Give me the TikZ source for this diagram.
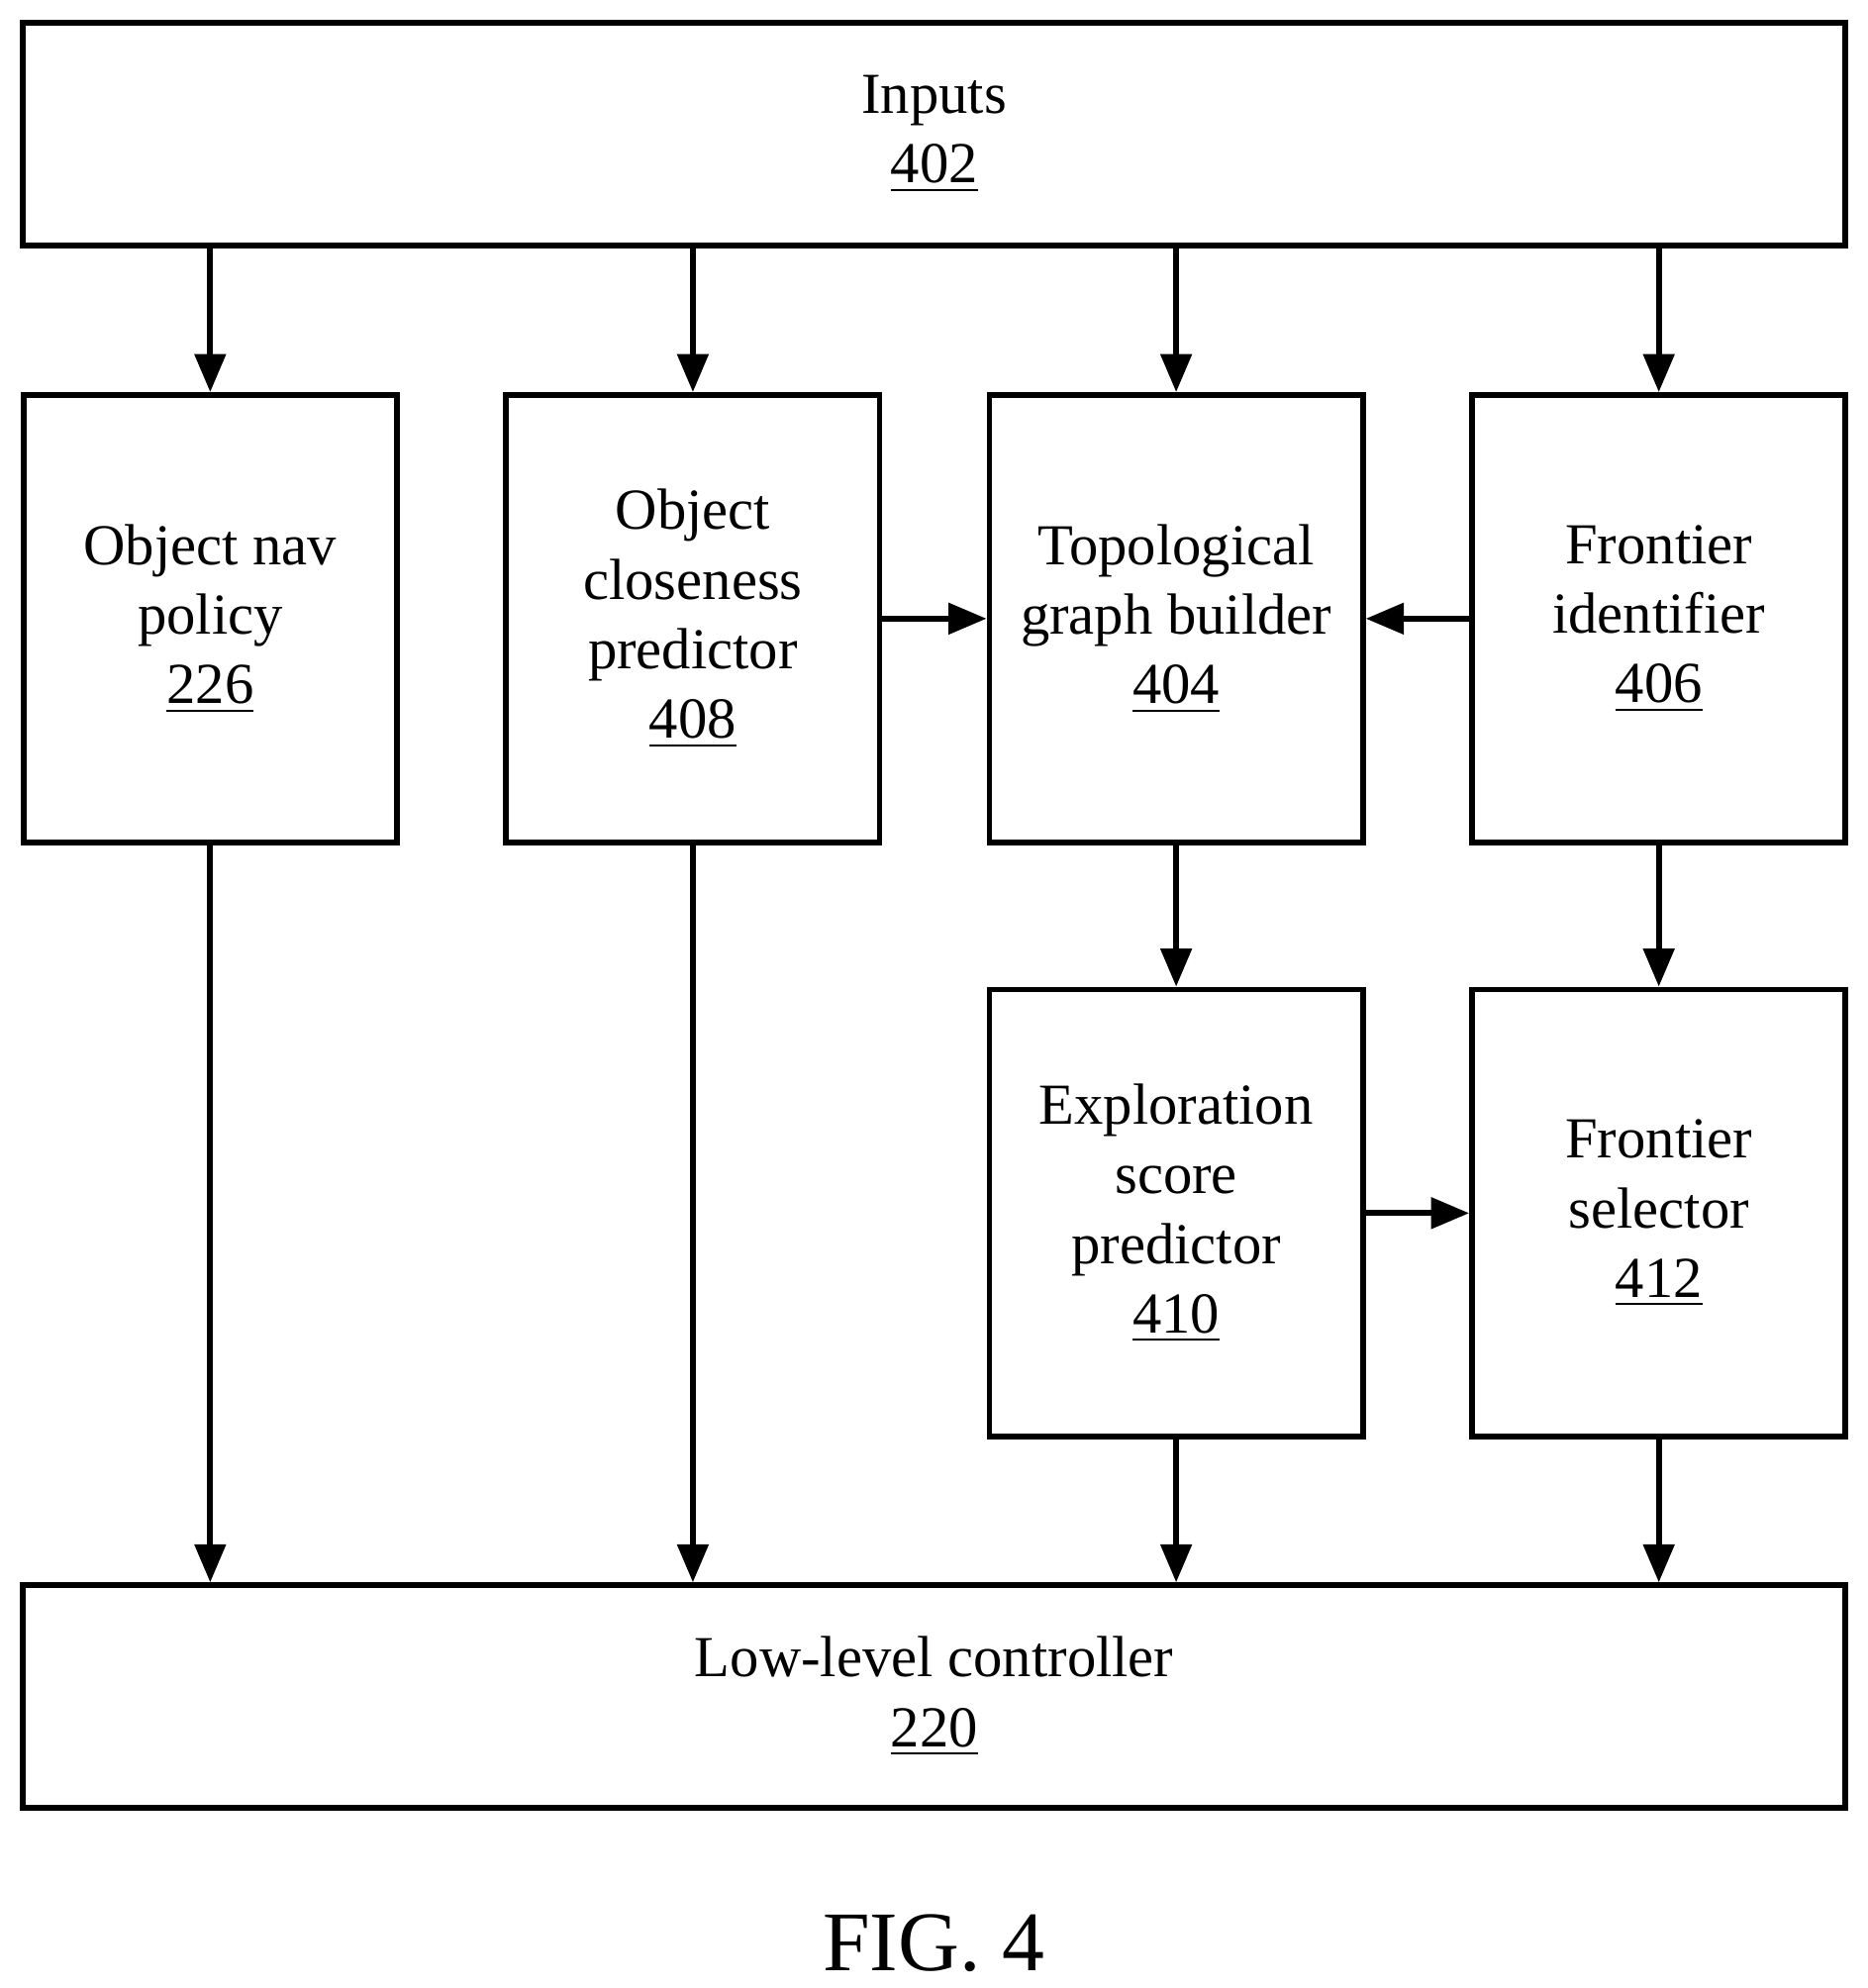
\documentclass[tikz,border=0pt]{standalone}
\usepackage{fontspec}
\setmainfont{Liberation Serif}
\usetikzlibrary{arrows.meta}
\tikzset{
  blk/.style={draw,line width=1.3pt,align=center,inner sep=1pt,font=\fontsize{13}{15.6}\selectfont},
  wide/.style={blk,minimum width=14.35cm,minimum height=1.75cm},
  box/.style={blk,minimum width=2.94cm,minimum height=3.52cm},
  arr/.style={-{Triangle[length=0.3cm,width=0.24cm]},line width=1.3pt}
}
\begin{document}
\begin{tikzpicture}
    \useasboundingbox (0,0) rectangle (14.7,-15.65);
    % Nodes
    \node (inp) at (7.355,-1.055) [wide] {Inputs\\\underline{402}};
    \node (nav) at (1.655,-4.87) [box] {Object nav\\policy\\\underline{226}};
    \node (clo) at (5.455,-4.87) [box] {Object\\closeness\\predictor\\\underline{408}};
    \node (top) at (9.26,-4.87) [box] {Topological\\graph builder\\\underline{404}};
    \node (fid) at (13.06,-4.87) [box] {Frontier\\identifier\\\underline{406}};
    \node (exp) at (9.26,-9.55) [box] {Exploration\\score\\predictor\\\underline{410}};
    \node (fsel) at (13.06,-9.55) [box] {Frontier\\selector\\\underline{412}};
    \node (low) at (7.355,-13.355) [wide] {Low-level controller\\\underline{220}};
    \node (fig) at (7.35,-15.3) [font=\fontsize{19}{21}\selectfont] {FIG. 4};
    % Edges
    \foreach \b in {nav,clo,top,fid}
        \draw[arr] (inp.south -| \b.north) -- (\b.north);
    \draw[arr] (clo.east) -- (top.west);
    \draw[arr] (fid.west) -- (top.east);
    \draw[arr] (top.south) -- (exp.north);
    \draw[arr] (fid.south) -- (fsel.north);
    \draw[arr] (exp.east) -- (fsel.west);
    \foreach \b in {nav,clo,exp,fsel}
        \draw[arr] (\b.south) -- (low.north -| \b.south);
\end{tikzpicture}
\end{document}
